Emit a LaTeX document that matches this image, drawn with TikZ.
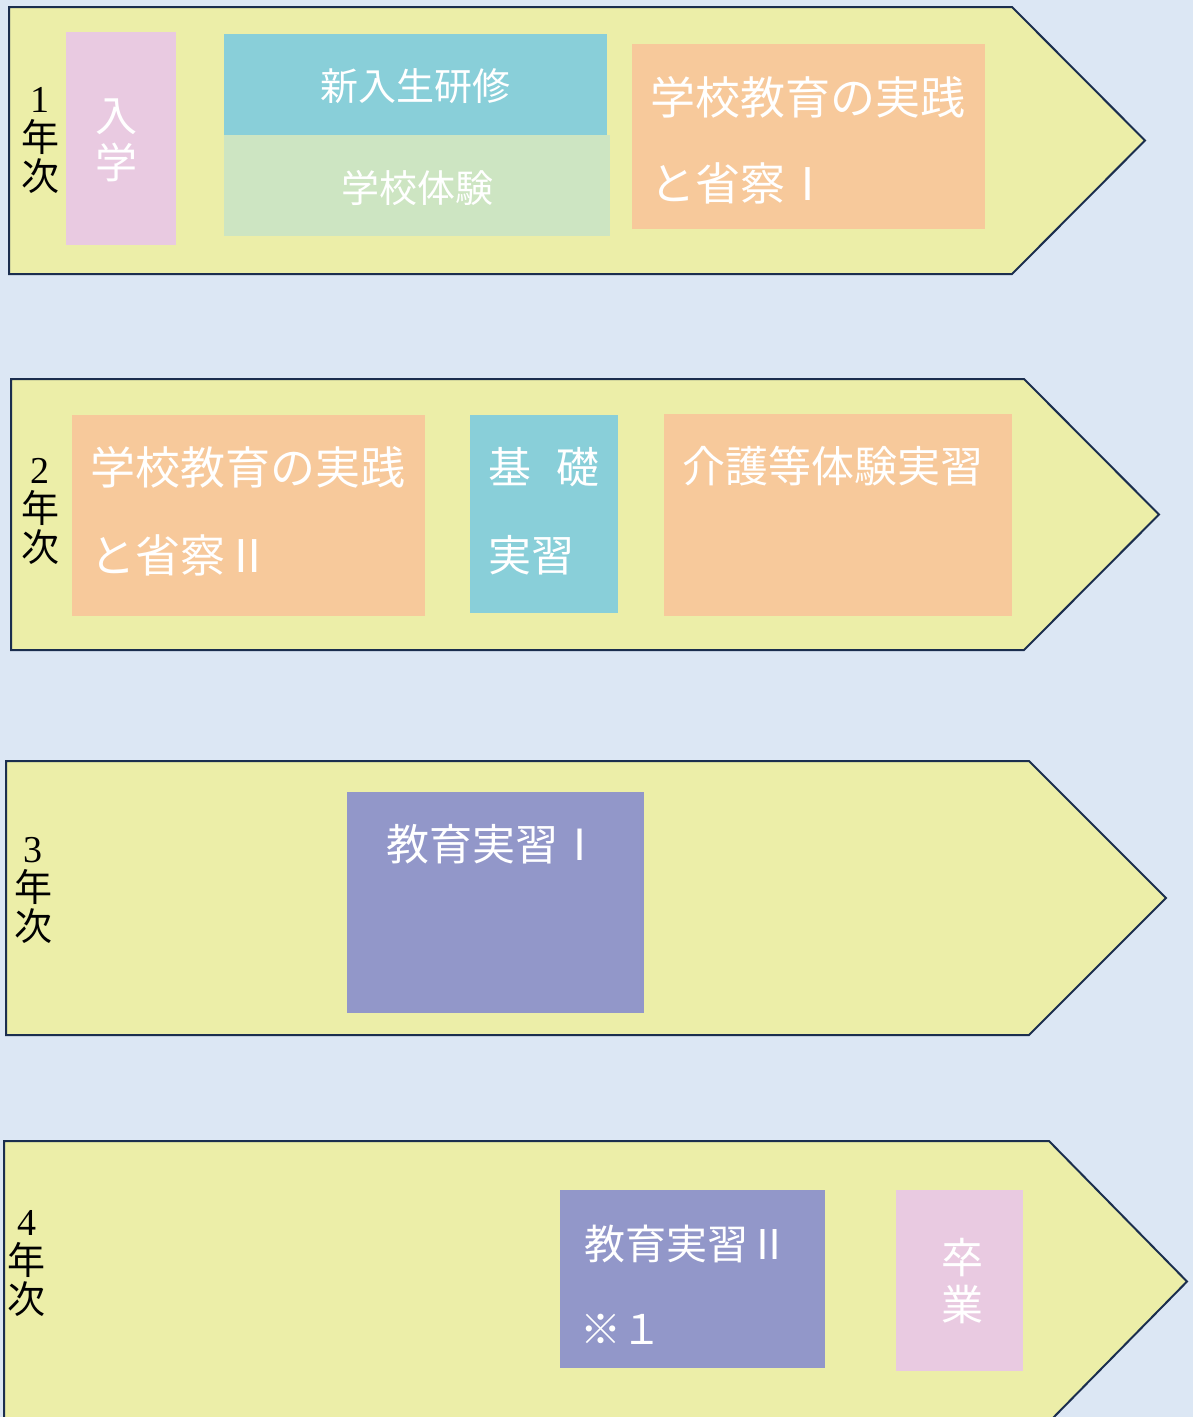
\documentclass[tikz,border=0pt]{standalone}
\usepackage{fontspec}
\setmainfont{Liberation Serif}
\newfontfamily\jp{Noto Sans CJK JP}
\definecolor{paper}{HTML}{DCE7F4}
\definecolor{arrowFill}{HTML}{ECEEA8}
\definecolor{arrowLine}{HTML}{1B2E4E}
\definecolor{pinkBox}{HTML}{E9CAE1}
\definecolor{tealBox}{HTML}{89CFD9}
\definecolor{greenBox}{HTML}{CDE5C2}
\definecolor{orangeBox}{HTML}{F7C99B}
\definecolor{purpleBox}{HTML}{9297C9}
\newcommand{\drawYear}[5]{
    \filldraw[fill=arrowFill, draw=arrowLine, line width=2pt]
        (#1,#2) -- (#4,#2) -- (#5,{(#2+#3)/2}) -- (#4,#3) -- (#1,#3) -- cycle;
}
\newcommand{\drawBlock}[5]{
    \fill[#5] (#1,#2) rectangle (#3,#4);
}
\tikzset{
    yearLabel/.style={inner sep=0pt, align=center, font=\fontsize{38}{39}\selectfont},
    boxText/.style={inner sep=0pt, text=white, anchor=base west},
    tallText/.style={inner sep=0pt, text=white, align=center, font=\jp\fontsize{42}{47}\selectfont}
}

\begin{document}
\begin{tikzpicture}[x=1pt, y=-1pt]

\useasboundingbox (0,0) rectangle (1193,1417);
\fill[paper] (0,0) rectangle (1193,1417);
\clip (0,0) rectangle (1193,1417);

% First year
\drawYear{9}{7}{274}{1012}{1145}
\drawBlock{66}{32}{176}{245}{pinkBox}
\drawBlock{224}{34}{607}{135}{tealBox}
\drawBlock{224}{135}{610}{236}{greenBox}
\drawBlock{632}{44}{985}{229}{orangeBox}
\node[yearLabel] (year1) at (40,140) {1\\{\jp 年}\\{\jp 次}};
\node[tallText] (entry) at (116,140) {入\\学};
\node[boxText, anchor=center, font=\jp\fontsize{38}{38}\selectfont] (fresh) at (415,86) {新入生研修};
\node[boxText, anchor=center, font=\jp\fontsize{38}{38}\selectfont] (visit) at (417,188) {学校体験};
\node[boxText, font=\jp\fontsize{45}{45}\selectfont] (practiceA1) at (650,114) {学校教育の実践};
\node[boxText, font=\jp\fontsize{45}{45}\selectfont] (practiceB1) at (650,200) {と省察Ⅰ};

% Second year
\drawYear{11}{379}{650}{1024}{1159}
\drawBlock{72}{415}{425}{616}{orangeBox}
\drawBlock{470}{415}{618}{613}{tealBox}
\drawBlock{664}{414}{1012}{616}{orangeBox}
\node[yearLabel] (year2) at (40,511) {2\\{\jp 年}\\{\jp 次}};
\node[boxText, font=\jp\fontsize{45}{45}\selectfont] (practiceA2) at (90,484) {学校教育の実践};
\node[boxText, font=\jp\fontsize{45}{45}\selectfont] (practiceB2) at (90,572) {と省察Ⅱ};
\node[boxText, font=\jp\fontsize{43}{43}\selectfont] (basicA) at (488,483) {基\hspace{25pt}礎};
\node[boxText, font=\jp\fontsize{43}{43}\selectfont] (basicB) at (488,571) {実習};
\node[boxText, font=\jp\fontsize{43}{43}\selectfont] (care) at (682,482) {介護等体験実習};

% Third year
\drawYear{6}{761}{1035}{1029}{1166}
\drawBlock{347}{792}{644}{1013}{purpleBox}
\node[yearLabel] (year3) at (33,890) {3\\{\jp 年}\\{\jp 次}};
\node[boxText, font=\jp\fontsize{43}{43}\selectfont] (teach1) at (386,860) {教育実習Ⅰ};

% Fourth year
\drawYear{4}{1141}{1422}{1049}{1187}
\drawBlock{560}{1190}{825}{1368}{purpleBox}
\drawBlock{896}{1190}{1023}{1371}{pinkBox}
\node[yearLabel] (year4) at (27,1263) {4\\{\jp 年}\\{\jp 次}};
\node[boxText, font=\jp\fontsize{41}{41}\selectfont] (teach2) at (584,1259) {教育実習Ⅱ};
\node[boxText, font=\jp\fontsize{41}{41}\selectfont] (note) at (580,1344) {※１};
\node[tallText] (graduate) at (962,1281) {卒\\業};

\end{tikzpicture}
\end{document}
